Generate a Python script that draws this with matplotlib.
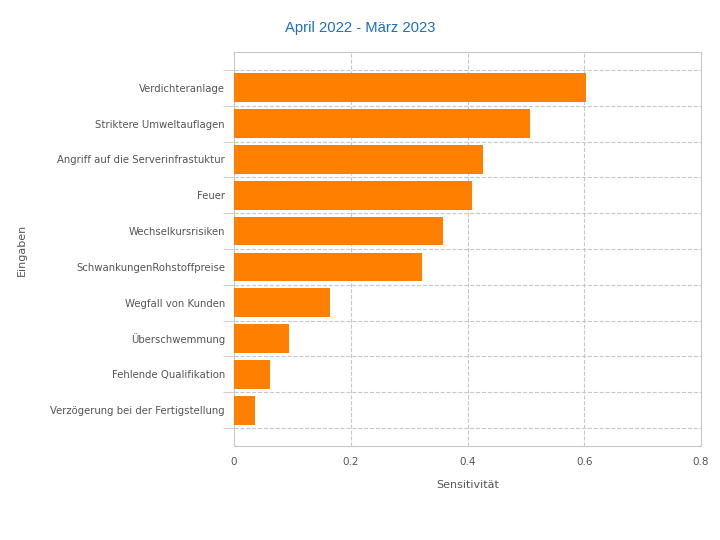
import matplotlib
matplotlib.use("Agg")
import matplotlib.pyplot as plt
import numpy as np

# data (top to bottom as shown)
eingaben = ["Verdichteranlage", "Striktere Umweltauflagen", "Angriff auf die Serverinfrastuktur",
            "Feuer", "Wechselkursrisiken", "SchwankungenRohstoffpreise", "Wegfall von Kunden",
            "Überschwemmung", "Fehlende Qualifikation", "Verzögerung bei der Fertigstellung"]
sensitivitaet = [0.603, 0.507, 0.427, 0.408, 0.358, 0.322, 0.164, 0.094, 0.062, 0.036]
xticks = [0, 0.2, 0.4, 0.6, 0.8]

grey = "#555555"
grid_col = "#c8c8c8"

fig = plt.figure(figsize=(7.2, 5.4), dpi=100)
ax = fig.add_axes([234/720, 1-446/540, (701-234)/720, (446-52)/540])

y = np.arange(len(eingaben))
ax.barh(y, sensitivitaet, height=0.8, color="#ff8000", zorder=3)
ax.set_ylim(len(eingaben), -1)
ax.set_xlim(0, 0.8)

ax.set_yticks(y)
ax.set_yticklabels(eingaben, fontsize=7.3, color=grey)
ax.set_yticks(np.arange(-0.5, len(eingaben), 1), minor=True)
ax.tick_params(axis="y", which="major", length=0, pad=6.5)
ax.tick_params(axis="y", which="minor", length=8, color=grid_col)
ax.set_xticks(xticks)
ax.set_xticklabels(["0", "0.2", "0.4", "0.6", "0.8"], fontsize=7.5, color=grey)
ax.tick_params(axis="x", length=0, pad=8)

ax.grid(True, axis="x", which="major", linestyle="--", color=grid_col, linewidth=0.8, zorder=0)
ax.grid(True, axis="y", which="minor", linestyle="--", color=grid_col, linewidth=0.8, zorder=0)
for s in ax.spines.values():
    s.set_color(grid_col)

ax.set_xlabel("Sensitivität", fontsize=8, color=grey, labelpad=9)
fig.text(22/720, 1-250/540, "Eingaben", rotation=90, fontsize=8, color=grey, ha="center", va="center")
fig.text(360/720, 1-28/540, "April 2022 - März 2023", fontsize=10.6, color="#1a70c8",
         ha="center", va="center", family="Liberation Sans")

fig.savefig("out.png", dpi=100)
